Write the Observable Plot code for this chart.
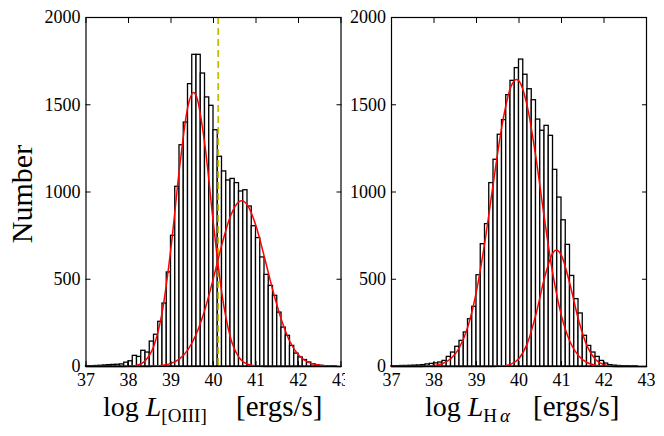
<!DOCTYPE html>
<html><head><meta charset="utf-8">
<script src="https://cdn.jsdelivr.net/npm/d3@7"></script>
<script src="https://cdn.jsdelivr.net/npm/@observablehq/plot@0.6"></script>
<style>
html,body{margin:0;padding:0;background:#fff;}
#fig{position:relative;width:664px;height:436px;overflow:hidden;background:#fff;}
#fig svg{position:absolute;top:0;}
#fig svg text{font-family:"Liberation Serif", "Times New Roman", serif !important;}
</style></head><body><div id="fig"></div>
<script>
// ---- data ----
const xTicks = [37, 38, 39, 40, 41, 42, 43];
const yTicks = [0, 500, 1000, 1500, 2000];
// histogram bins of width 0.1 from 37.0 to 43.0 (60 bins)
const binEdges = d3.range(0, 61).map(i => +(37 + i / 10).toFixed(1));

const oiiiCounts = [2, 2, 3, 4, 6, 8, 9, 10, 12, 22,
  30, 61, 55, 90, 80, 143, 182, 256, 361, 539,
  749, 1030, 1268, 1398, 1618, 1786, 1786, 1679, 1542, 1494,
  1354, 1202, 1118, 1066, 1075, 1051, 1003, 1010, 917, 804,
  736, 625, 525, 462, 405, 309, 223, 176, 118, 74,
  52, 37, 23, 13, 6, 4, 2, 1, 1, 0];

const haCounts = [2, 2, 3, 3, 4, 5, 6, 8, 12, 15,
  18, 23, 32, 55, 80, 113, 147, 195, 271, 342,
  523, 701, 816, 1051, 1185, 1328, 1412, 1555, 1637, 1710,
  1759, 1672, 1589, 1526, 1415, 1351, 1379, 1322, 1127, 968,
  838, 697, 519, 386, 304, 176, 118, 80, 55, 32,
  17, 8, 5, 3, 2, 2, 1, 1, 0, 0];

// fitted gaussian components
const oiiiFit1X = [37.0, 37.8, 38.0, 38.2, 38.4, 38.6, 38.8, 39.0, 39.2, 39.4, 39.53, 39.6, 39.8, 40.0, 40.2, 40.4, 40.6, 40.8, 41.0, 41.2, 41.4, 43.0];
const oiiiFit1Y = [0, 0.2, 1.5, 8, 35, 120, 322, 681, 1136, 1493, 1570, 1547, 1264, 814, 413, 165, 52, 13, 2.5, 0.4, 0, 0];
const oiiiFit2X = [37.0, 38.4, 38.6, 38.8, 39.0, 39.2, 39.4, 39.6, 39.8, 40.0, 40.2, 40.4, 40.6, 40.66, 40.8, 41.0, 41.2, 41.4, 41.6, 41.8, 42.0, 42.2, 42.4, 42.6, 42.8, 43.0];
const oiiiFit2Y = [0, 0.6, 2.1, 6.6, 18, 44, 97, 189, 328, 508, 701, 862, 945, 950, 924, 805, 625, 433, 267, 142, 66, 28, 11, 4, 1.3, 0.4];
const haFit1X = [37.0, 37.6, 37.8, 38.0, 38.2, 38.4, 38.6, 38.8, 39.0, 39.2, 39.4, 39.6, 39.8, 39.94, 40.0, 40.2, 40.4, 40.6, 40.8, 41.0, 41.2, 41.4, 41.6, 41.8, 42.0, 42.2, 43.0];
const haFit1Y = [0, 0.4, 1.6, 5.6, 17, 46, 109, 231, 432, 719, 1058, 1381, 1597, 1645, 1636, 1485, 1194, 845, 525, 290, 142, 62, 23, 7.5, 2.2, 0.6, 0];
const haFit2X = [37.0, 39.4, 39.6, 39.8, 40.0, 40.2, 40.4, 40.6, 40.8, 40.88, 41.0, 41.2, 41.4, 41.6, 41.8, 42.0, 42.2, 42.4, 43.0];
const haFit2Y = [0, 0.5, 2.3, 12, 46, 135, 300, 508, 652, 667, 635, 470, 268, 118, 40, 10, 2, 0.3, 0];

const oiiiDivider = [40.11];

const yLabel = "Number";
const unitLabel = "[ergs/s]";

// ---- drawing ----
const serif = "'Liberation Serif', 'Times New Roman', serif";
const fmt = d => String(d);

function panel({counts, fits, dividers, width, marginLeft, marginRight}) {
  const bins = counts.map((c, i) => ({x1: binEdges[i], x2: binEdges[i + 1], count: c}));
  const marks = [
    Plot.rectY(bins, {x1: "x1", x2: "x2", y: "count", fill: "white", stroke: "black", strokeWidth: 1.3}),
    Plot.ruleX(dividers, {stroke: "#bfbf00", strokeWidth: 1.7, strokeDasharray: "7,4"}),
    ...fits.map(([xs, ys]) => Plot.line(xs.map((x, i) => ({x, y: ys[i]})),
      {x: "x", y: "y", stroke: "#ff0000", strokeWidth: 1.5, curve: "monotone-x"})),
    Plot.frame({stroke: "black", strokeWidth: 1.2}),
    Plot.axisX({anchor: "bottom", ticks: xTicks, tickSize: -5, tickPadding: 12, tickFormat: fmt, label: null, fontSize: 18, fontVariant: "normal"}),
    Plot.axisX({anchor: "top", ticks: xTicks, tickSize: -5, tickFormat: () => "", label: null}),
    Plot.axisY({anchor: "left", ticks: yTicks, tickSize: -5, tickPadding: 10.5, tickFormat: fmt, label: null, fontSize: 18, fontVariant: "normal"}),
    Plot.axisY({anchor: "right", ticks: yTicks, tickSize: -5, tickFormat: () => "", label: null})
  ];
  return Plot.plot({
    width, height: 436, marginTop: 17, marginBottom: 70, marginLeft, marginRight,
    x: {domain: [37, 43]}, y: {domain: [0, 2000]},
    style: {fontFamily: serif, fontSize: "18px", background: "white", color: "black", overflow: "visible"},
    marks
  });
}

function xLabel(svg, x0, parts, unitX) {
  const t = svg.append("text").attr("x", x0).attr("y", 416).attr("text-anchor", "start")
    .attr("fill", "black").style("font-size", "28px");
  t.append("tspan").text("log ");
  t.append("tspan").attr("font-style", "italic").text("L");
  let first = true;
  for (const p of parts) {
    const s = t.append("tspan").attr("font-size", "19px").text(p.text);
    if (p.italic) s.attr("font-style", "italic");
    if (p.dx) s.attr("dx", p.dx);
    if (first) { s.attr("dy", 6); first = false; }
  }
  svg.append("text").attr("x", unitX).attr("y", 416).attr("text-anchor", "start")
    .attr("fill", "black").style("font-size", "29px").text(unitLabel);
}

const fig = document.getElementById("fig");

const left = panel({counts: oiiiCounts, fits: [[oiiiFit1X, oiiiFit1Y], [oiiiFit2X, oiiiFit2Y]],
  dividers: oiiiDivider, width: 345, marginLeft: 85.5, marginRight: 4.5});
left.style.left = "0px";
fig.appendChild(left);

const right = panel({counts: haCounts, fits: [[haFit1X, haFit1Y], [haFit2X, haFit2Y]],
  dividers: [], width: 319, marginLeft: 46, marginRight: 18});
right.style.left = "345px";
fig.appendChild(right);

const sL = d3.select(left), sR = d3.select(right);
sL.append("text").attr("transform", "translate(32,194) rotate(-90)").attr("text-anchor", "middle")
  .attr("fill", "black").style("font-size", "30px").text(yLabel);

xLabel(sL, 103, [{text: "[OIII]"}], 236);
xLabel(sR, 80, [{text: "H"}, {text: "α", italic: true, dx: 3}], 188);
</script>
</body></html>
